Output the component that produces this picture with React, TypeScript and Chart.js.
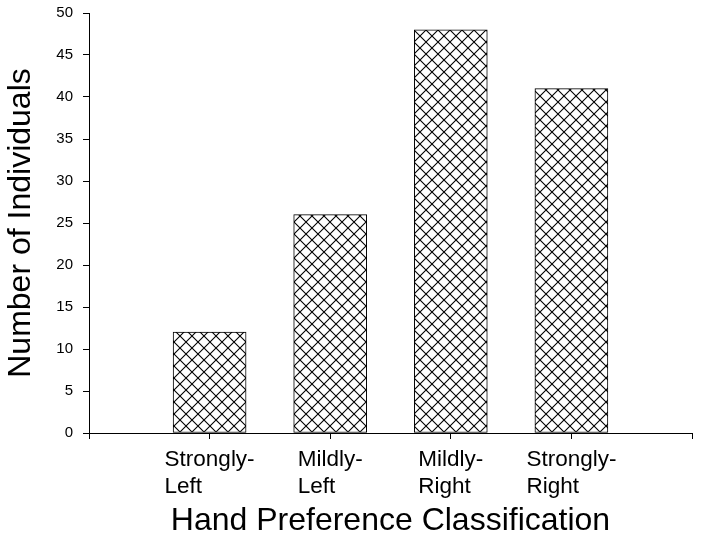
import React, { useEffect, useRef } from "react";
import { Chart, registerables } from "chart.js";

Chart.register(...registerables);

const categories = ["Strongly-Left", "Mildly-Left", "Mildly-Right", "Strongly-Right"];
const counts = [12, 26, 48, 41];
const yTitle = "Number of Individuals";
const xTitle = "Hand Preference Classification";
const yMin = 0;
const yMax = 50;
const yStep = 5;

const FONT = '"Liberation Sans", Arial, sans-serif';

function makeHatch(): CanvasPattern | string {
  const size = 12;
  const c = document.createElement("canvas");
  c.width = size;
  c.height = size;
  const g = c.getContext("2d");
  if (!g) return "#fff";
  g.fillStyle = "#fff";
  g.fillRect(0, 0, size, size);
  g.strokeStyle = "#000";
  g.lineWidth = 1.1;
  g.beginPath();
  g.moveTo(-2, -2);
  g.lineTo(size + 2, size + 2);
  g.moveTo(-2, size + 2);
  g.lineTo(size + 2, -2);
  g.stroke();
  const p = g.createPattern(c, "repeat");
  return p || "#fff";
}

const splitLabel = (s: string): string[] => {
  const i = s.indexOf("-");
  return i >= 0 ? [s.slice(0, i + 1), s.slice(i + 1)] : [s];
};

const xLabelPlugin = {
  id: "xLabelPlugin",
  afterDraw(chart: any) {
    const xs = chart.scales.x;
    const ctx = chart.ctx;
    ctx.save();
    ctx.font = `22.5px ${FONT}`;
    ctx.fillStyle = "#000";
    ctx.textAlign = "left";
    ctx.textBaseline = "alphabetic";
    const base = xs.top + 33;
    const lh = 26.5;
    categories.forEach((cat, i) => {
      const lines = splitLabel(cat);
      const cx = xs.getPixelForValue(i + 1);
      const w = Math.max(...lines.map((l) => ctx.measureText(l).width));
      const x0 = cx - w / 2;
      lines.forEach((l, j) => ctx.fillText(l, x0, base + j * lh));
    });
    ctx.restore();
  },
};

export default function App() {
  const ref = useRef<HTMLCanvasElement | null>(null);
  useEffect(() => {
    if (!ref.current) return;
    const hatch = makeHatch();
    const labels = ["", ...categories, ""];
    const data = [null, ...counts, null];
    const chart = new Chart(ref.current, {
      type: "bar",
      data: {
        labels,
        datasets: [
          {
            data: data as any,
            backgroundColor: hatch as any,
            borderColor: "#000",
            borderWidth: 1,
            borderSkipped: false,
            barThickness: 73,
          },
        ],
      },
      options: {
        animation: false,
        responsive: false,
        maintainAspectRatio: false,
        layout: { padding: { top: 13, right: 10, left: 0, bottom: 0 } },
        plugins: { legend: { display: false }, tooltip: { enabled: false } },
        scales: {
          x: {
            type: "category",
            offset: false,
            grid: {
              offset: false,
              drawOnChartArea: false,
              drawTicks: true,
              tickLength: 6,
              color: "#000",
              lineWidth: 1,
            },
            border: { color: "#000", width: 1 },
            ticks: { display: false },
            title: {
              display: true,
              text: xTitle,
              color: "#000",
              font: { family: FONT, size: 32, lineHeight: 1.2 },
              padding: { top: 0, bottom: 10 },
            },
            afterFit: (s: any) => {
              s.height = 117;
              s.paddingLeft = 0;
              s.paddingRight = 0;
            },
          },
          y: {
            min: yMin,
            max: yMax,
            grid: {
              drawOnChartArea: false,
              drawTicks: true,
              tickLength: 6,
              color: "#000",
              lineWidth: 1,
            },
            border: { color: "#000", width: 1 },
            ticks: {
              stepSize: yStep,
              color: "#000",
              padding: 10,
              font: { family: FONT, size: 15 },
            },
            title: {
              display: true,
              text: yTitle,
              color: "#000",
              font: { family: FONT, size: 32, lineHeight: 1.2 },
              padding: { top: 2, bottom: 0 },
            },
            afterFit: (s: any) => {
              s.width = 89;
              s.paddingTop = 0;
              s.paddingBottom = 0;
            },
          },
        },
      },
      plugins: [xLabelPlugin],
    });
    return () => chart.destroy();
  }, []);
  return (
    <div style={{ position: "fixed", left: 0, top: 0, width: 702, height: 550, background: "#fff" }}>
      <canvas ref={ref} width={702} height={550} style={{ display: "block", width: 702, height: 550 }} />
    </div>
  );
}
